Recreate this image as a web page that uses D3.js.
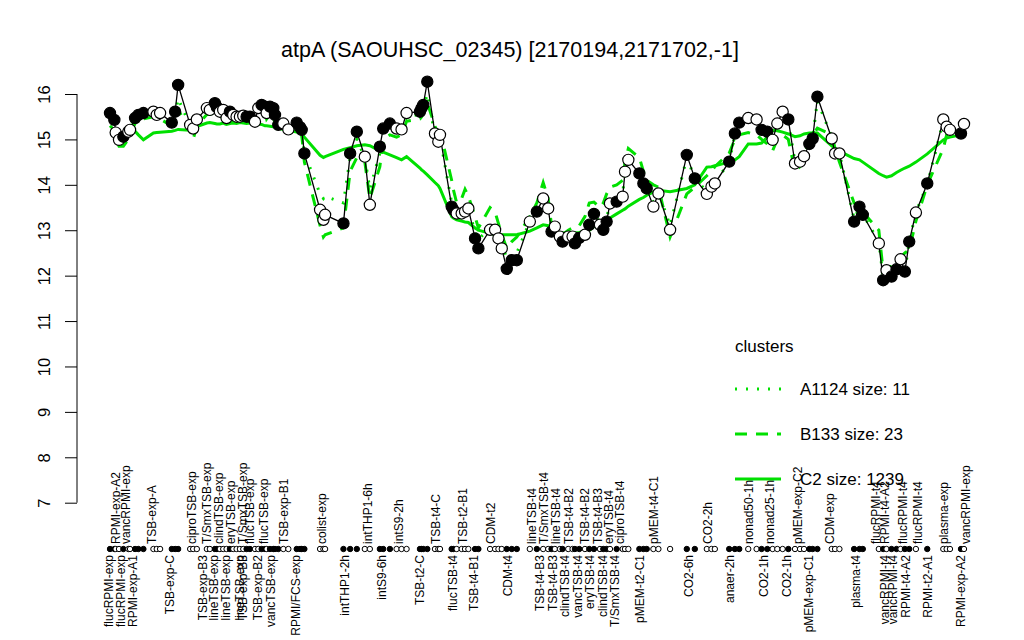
<!DOCTYPE html>
<html><head><meta charset="utf-8">
<script src="https://cdn.jsdelivr.net/npm/d3@7"></script>
<style>body{margin:0;background:#fff}svg{display:block}text{font-family:"Liberation Sans",Arial,Helvetica,sans-serif}</style>
</head><body><svg id="c" width="1024" height="640"></svg>
<script>
const title = "atpA (SAOUHSC_02345) [2170194,2171702,-1]";
// x position of each condition (slot units)
const xPos = [1.0,2.3,2.7,3.7,5.0,6.5,7.0,8.5,9.5,11.0,14.0,15.0,16.0,19.5,20.5,21.4,25.0,25.9,27.0,30.0,
30.9,32.4,33.0,33.9,34.9,35.9,36.9,37.9,38.9,39.9,40.9,41.9,42.9,44.4,45.4,46.4,47.4,47.9,48.9,49.9,
50.4,51.4,52.9,54.4,56.9,57.9,58.4,59.2,63.9,64.9,65.4,70.9,72.9,74.9,77.3,78.8,81.8,82.8,84.8,86.8,
88.3,89.8,93.8,94.3,94.8,96.0,98.3,99.3,99.8,103.3,103.8,104.8,106.3,107.3,108.3,110.3,111.3,114.8,116.3,117.3,
118.3,119.8,121.3,122.8,126.7,128.8,130.7,132.2,133.2,134.2,135.7,136.5,138.2,139.5,140.2,141.5,143.2,144.5,145.9,147.7,
148.7,149.7,150.7,152.7,154.5,155.2,156.2,159.5,160.7,161.7,163.7,165.2,168.7,173.7,176.1,179.7,181.1,182.1,186.4,188.1,
189.4,192.1,194.6,196.1,197.8,199.4,200.8,202.4,204.1,206.1,207.6,208.8,210.4,211.4,212.8,217.1,218.1,219.4,223.8,225.4,
226.4,231.2,232.5,233.5,235.0,236.5,237.7,239.0,240.3,242.3,245.7,250.5,251.5,252.5,255.8,256.7];
// atpA expression (log2)
const values = [15.58,15.43,15.15,14.99,15.06,15.17,15.21,15.47,15.54,15.58,15.61,15.54,15.58,15.37,15.61,16.20,15.32,15.24,15.44,15.69,
15.65,15.80,15.71,15.61,15.65,15.47,15.61,15.54,15.50,15.50,15.52,15.50,15.50,15.39,15.69,15.76,15.72,15.58,15.72,15.69,
15.54,15.32,15.35,15.22,15.37,15.27,15.21,14.69,13.45,13.23,13.34,13.15,14.69,15.17,14.62,13.56,14.84,15.24,15.35,15.24,
15.22,15.58,15.61,15.69,15.76,16.27,15.13,14.95,15.10,13.52,13.45,13.37,13.37,13.41,13.48,12.82,12.60,13.01,13.01,12.82,
12.60,12.15,12.34,12.34,13.19,13.41,13.70,13.48,12.97,13.08,12.86,12.75,12.86,12.86,12.71,12.83,12.90,13.12,13.36,13.12,
13.01,13.19,13.59,13.63,13.74,14.29,14.55,14.25,14.03,13.92,13.52,13.81,13.01,14.66,14.14,13.80,13.96,14.03,14.51,15.13,
15.37,15.47,15.44,15.21,15.17,14.99,15.35,15.61,15.44,14.47,14.51,14.63,14.90,15.02,15.94,15.02,14.69,14.69,13.19,13.52,
13.34,12.71,11.90,12.12,11.98,12.14,12.36,12.09,12.75,13.39,14.03,15.44,15.28,15.21,15.13,15.34];
// 1 = filled symbol, 0 = open symbol
const filled = [1,1,0,0,1,0,0,1,1,1,0,0,0,1,1,1,0,0,0,0,
0,1,1,0,0,0,1,0,0,0,0,1,1,0,0,1,1,0,1,1,
1,1,0,0,1,1,1,1,0,0,0,1,1,1,0,0,1,1,1,0,
0,0,1,1,1,1,0,0,0,1,1,0,0,0,0,1,1,0,0,0,
0,1,1,1,0,1,0,0,1,0,0,1,0,0,1,1,0,1,1,0,
1,1,0,1,0,0,0,1,1,1,0,0,0,1,1,0,0,0,1,1,
1,0,0,1,1,0,0,0,1,0,0,0,1,1,1,0,0,0,1,1,
1,0,1,0,1,1,0,1,1,0,1,0,0,0,1,0];
// cluster mean profiles
const clusterC2 = [15.18,15.18,15.10,15.00,15.05,15.12,15.15,15.18,15.10,14.99,15.14,15.15,15.16,15.18,15.20,15.22,15.20,15.22,15.28,15.36,
15.37,15.35,15.34,15.34,15.36,15.33,15.35,15.36,15.35,15.37,15.36,15.35,15.36,15.36,15.34,15.33,15.30,15.30,15.29,15.28,
15.27,15.25,15.22,15.20,15.16,15.14,15.13,15.05,14.65,14.60,14.62,14.78,14.82,14.86,14.88,14.86,14.75,14.72,14.66,14.60,
14.55,14.62,14.37,14.33,14.30,14.22,14.05,13.98,13.92,13.30,13.27,13.23,13.20,13.18,13.17,13.05,13.00,12.93,12.90,12.90,
12.90,12.90,12.90,12.90,12.98,13.05,13.12,13.10,12.98,12.95,12.94,12.94,12.94,12.94,12.94,12.95,12.98,13.00,13.08,13.15,
13.19,13.23,13.27,13.36,13.44,13.47,13.53,13.68,13.72,13.77,13.84,13.88,13.85,13.92,14.00,14.39,14.40,14.42,14.50,14.55,
14.62,14.90,14.90,14.92,15.05,15.20,15.19,15.16,15.12,15.06,15.08,15.12,15.14,15.14,15.14,14.86,14.80,14.74,14.58,14.55,
14.50,14.25,14.20,14.17,14.20,14.27,14.32,14.37,14.41,14.50,14.68,14.99,15.03,15.05,15.10,15.12];
const clusterB133 = [15.30,15.20,15.00,14.85,14.85,15.00,15.10,15.35,15.40,15.45,15.50,15.45,15.45,15.30,15.45,15.65,15.20,15.00,15.30,15.55,
15.55,15.60,15.55,15.50,15.50,15.30,15.45,15.40,15.40,15.40,15.45,15.45,15.45,15.35,15.55,15.60,15.60,15.45,15.55,15.50,
15.35,15.15,15.20,15.15,15.25,15.20,15.10,14.50,13.10,12.85,12.90,13.05,14.30,14.60,14.50,13.70,14.40,15.00,15.10,15.05,
15.10,15.40,15.45,15.50,15.60,15.80,15.30,15.00,15.20,14.10,13.90,13.60,13.70,13.90,13.75,13.30,13.05,13.50,13.40,13.15,
12.90,12.60,12.75,12.85,13.30,13.60,14.05,13.70,13.10,13.00,12.95,12.90,13.00,13.05,13.05,13.10,13.30,13.60,13.62,13.50,
13.60,13.80,13.95,14.00,14.10,14.50,14.80,14.60,14.30,14.10,14.00,13.95,12.85,13.80,13.95,14.20,14.30,14.40,14.70,15.00,
15.10,15.15,15.10,15.00,14.90,14.75,15.00,15.10,15.00,14.30,14.40,14.60,15.00,15.10,15.25,15.10,14.80,14.50,13.60,13.50,
13.40,13.00,12.10,12.20,12.20,12.30,12.40,12.50,12.57,13.20,14.00,14.80,15.10,15.15,15.10,15.20];
const clusterA1124 = [15.45,15.35,15.15,15.00,15.05,15.15,15.20,15.45,15.50,15.50,15.55,15.50,15.50,15.35,15.55,15.90,15.30,15.20,15.40,15.60,
15.60,15.70,15.65,15.55,15.60,15.45,15.55,15.50,15.45,15.45,15.50,15.45,15.45,15.35,15.60,15.70,15.65,15.50,15.65,15.60,
15.45,15.25,15.30,15.20,15.30,15.25,15.15,14.70,13.80,13.70,13.75,13.60,14.60,15.00,14.60,13.90,14.70,15.15,15.25,15.20,
15.20,15.50,15.55,15.60,15.70,16.00,15.10,14.95,15.05,13.60,13.50,13.40,13.45,13.50,13.50,12.95,12.80,13.05,13.05,12.90,
12.75,12.35,12.45,12.50,13.20,13.45,13.75,13.55,13.00,13.10,12.90,12.80,12.90,12.90,12.80,12.90,12.95,13.15,13.40,13.15,
13.10,13.25,13.60,13.65,13.80,14.30,14.55,14.30,14.05,13.95,13.60,13.85,13.10,14.60,14.15,13.85,14.00,14.05,14.50,15.10,
15.35,15.45,15.40,15.20,15.15,15.00,15.30,15.55,15.40,14.50,14.55,14.65,14.90,15.05,15.85,15.05,14.70,14.70,13.25,13.50,
13.35,12.75,11.95,12.15,12.00,12.15,12.35,12.10,12.75,13.40,14.00,15.40,15.25,15.20,15.15,15.30];
// condition labels shown above the rug (tick position, text)
const topLabelPos = [2.8,5.8,13.6,25.6,30.0,33.6,37.2,40.8,42.9,47.1,53.1,64.5,78.2,87.5,98.6,106.7,115.1,127.3,130.9,134.5,
138.4,143.2,147.1,150.4,153.7,163.9,180.0,192.3,198.6,207.0,216.6,230.3,233.0,238.4,242.9,250.7,257.3];
const topLabelText = ["RPMI-exp-A2","vancRPMI-exp","TSB-exp-A","ciproTSB-exp","T/SmxTSB-exp","clindTSB-exp","eryTSB-exp","T/SmxTSB-exp","flucTSB-exp","flucTSB-exp",
"TSB-exp-B1","colist-exp","intTHP1-6h","intS9-2h","TSB-t4-C","TSB-t2-B1","CDM-t2","lineTSB-t4","T/SmxTSB-t4","lineTSB-t4",
"TSB-t4-B2","TSB-t4-B2","TSB-t4-B3","eryTSB-t4","ciproTSB-t4","pMEM-t4-C1","CO2-2h","nonad50-1h","nonad25-1h","pMEM-exp-C2",
"CDM-exp","flucRPMI-t4","RPMI-t4-A2","flucRPMI-t4","flucRPMI-t4","plasma-exp","vancRPMI-exp"];
// condition labels shown below the rug
const bottomLabelPos = [0.7,4.3,7.9,19.0,28.8,32.1,35.7,39.9,40.8,45.3,49.2,56.7,71.4,82.4,93.8,103.7,110.0,120.2,129.8,133.6,
137.2,141.1,144.7,148.6,152.2,159.7,174.4,186.7,196.8,203.7,210.3,224.4,233.0,235.4,239.3,245.9,255.8];
const bottomLabelText = ["flucRPMI-exp","flucRPMI-exp","RPMI-exp-A1","TSB-exp-C","TSB-exp-B3","lineTSB-exp","lineTSB-exp","lineTSB-exp","TSB-exp-B3","TSB-exp-B2",
"vancTSB-exp","RPMI/FCS-exp","intTHP1-2h","intS9-6h","TSB-t2-C","flucTSB-t4","TSB-t4-B1","CDM-t4","TSB-t4-B3","TSB-t4-B3",
"clindTSB-t4","vancTSB-t4","eryTSB-t4","clindTSB-t4","T/SmxTSB-t4","pMEM-t2-C1","CO2-6h","anaer-2h","CO2-1h","CO2-1h",
"pMEM-exp-C1","plasma-t4","vancRPMI-t4","vancRPMI-t4","RPMI-t4-A2","RPMI-t2-A1","RPMI-exp-A2"];
const yTicks = [7,8,9,10,11,12,13,14,15,16];
const legendTitle = "clusters";
const legendNames = ["A1124 size: 11","B133 size: 23","C2 size: 1239"];

const GREEN = "#00e000";
const svg = d3.select("#c");
const x = d3.scaleLinear().domain([1,257]).range([110,965]);
const y = d3.scaleLinear().domain([7,16]).range([502.7,94]);

svg.append("text").attr("x",510).attr("y",57).attr("text-anchor","middle")
  .style("font-size","21.5px").text(title);

// y axis
const yAxis = d3.axisLeft(y).tickValues(yTicks).tickSize(12).tickFormat(d3.format("d"));
const ga = svg.append("g").attr("transform","translate(77,0)").call(yAxis);
ga.select(".domain").attr("stroke","#000").attr("d",`M0,${y(7)}V${y(16)}`);
ga.selectAll(".tick line").attr("stroke","#000");
ga.selectAll(".tick text").attr("x",null).attr("dy",null)
  .attr("transform",d=>`translate(-33,0) rotate(-90)`).attr("text-anchor","middle")
  .attr("dominant-baseline","central")
  .style("font-size","16.5px").style("font-family",'"Liberation Sans",Arial,sans-serif').attr("fill","#000");

const idx = d3.range(xPos.length);
const lineOf = arr => d3.line().x(i=>x(xPos[i])).y(i=>y(arr[i]));

// cluster lines
svg.append("path").attr("d",lineOf(clusterC2)(idx)).attr("fill","none").attr("stroke",GREEN).attr("stroke-width",3);
svg.append("path").attr("d",lineOf(clusterB133)(idx)).attr("fill","none").attr("stroke",GREEN).attr("stroke-width",3).attr("stroke-dasharray","12,9");
svg.append("path").attr("d",lineOf(clusterA1124)(idx)).attr("fill","none").attr("stroke",GREEN).attr("stroke-width",3).attr("stroke-dasharray","2,9");

// gene line
svg.append("path").attr("d",lineOf(values)(idx)).attr("fill","none").attr("stroke","#000").attr("stroke-width",1.3);
svg.append("g").selectAll("circle").data(idx).join("circle")
  .attr("cx",i=>x(xPos[i])).attr("cy",i=>y(values[i])).attr("r",5.6)
  .attr("fill",i=>filled[i]?"#000":"#fff").attr("stroke","#000").attr("stroke-width",1.2);

// rug
svg.append("g").selectAll("circle").data(idx).join("circle")
  .attr("cx",i=>x(xPos[i])).attr("cy",549).attr("r",2.7)
  .attr("fill",i=>filled[i]?"#000":"#fff").attr("stroke","#000").attr("stroke-width",1);

// labels
svg.append("g").selectAll("text").data(topLabelText).join("text")
  .attr("transform",(d,i)=>`translate(${x(topLabelPos[i])+4.2},544) rotate(-90)`)
  .attr("text-anchor","start").style("font-size","12px").text(d=>d);
svg.append("g").selectAll("text").data(bottomLabelText).join("text")
  .attr("transform",(d,i)=>`translate(${x(bottomLabelPos[i])+4.2},555) rotate(-90)`)
  .attr("text-anchor","end").style("font-size","12px").text(d=>d);

// legend
const lg = svg.append("g");
lg.append("text").attr("x",735).attr("y",352).style("font-size","17px").text(legendTitle);
const dashes = ["2,9","12,9",null];
legendNames.forEach((n,i)=>{
  const yy = 389 + i*45;
  lg.append("line").attr("x1",735).attr("x2",781).attr("y1",yy).attr("y2",yy)
    .attr("stroke",GREEN).attr("stroke-width",3).attr("stroke-dasharray",dashes[i]);
  lg.append("text").attr("x",800).attr("y",yy+6).style("font-size","17px").text(n);
});
</script></body></html>
